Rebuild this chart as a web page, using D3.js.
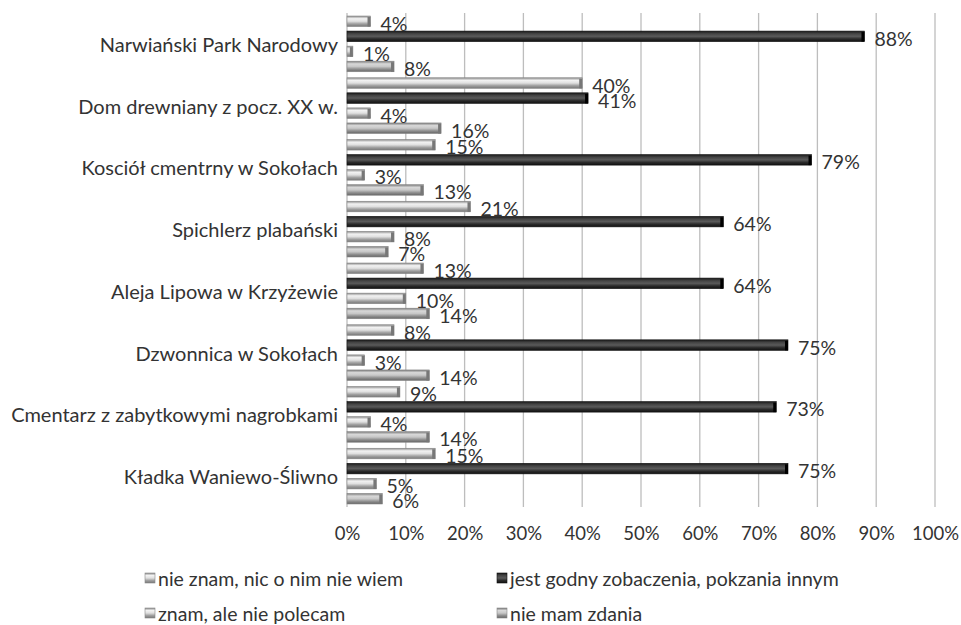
<!DOCTYPE html>
<html lang="pl">
<head>
<meta charset="UTF-8">
<title>Ocena obiektów</title>
<style>
  body { margin: 0; background: #fff; }
  text { font-family: Lato, "Open Sans", sans-serif; fill: #333; }
</style>
</head>
<body>
<div id="chart"></div>
<script src="https://cdn.jsdelivr.net/npm/d3@7"></script>
<script>
// data
const categories = [
  "Narwiański Park Narodowy",
  "Dom drewniany z pocz. XX w.",
  "Kosciół cmentrny w Sokołach",
  "Spichlerz plabański",
  "Aleja Lipowa w Krzyżewie",
  "Dzwonnica w Sokołach",
  "Cmentarz z zabytkowymi nagrobkami",
  "Kładka Waniewo-Śliwno"
];
const seriesNames = [
  "nie znam, nic o nim nie wiem",
  "jest godny zobaczenia, pokzania innym",
  "znam, ale nie polecam",
  "nie mam zdania"
];
const nieZnam    = [4, 40, 15, 21, 13, 8, 9, 15];
const jestGodny  = [88, 41, 79, 64, 64, 75, 73, 75];
const nieZnamPol = [1, 4, 3, 8, 10, 3, 4, 5];
const nieMam     = [8, 16, 13, 7, 14, 14, 14, 6];
const ticks = [0, 10, 20, 30, 40, 50, 60, 70, 80, 90, 100];

const values = [nieZnam, jestGodny, nieZnamPol, nieMam];

const W = 961, H = 625;
const margin = {top: 13, left: 347, right: 26, bottom: 118};

const svg = d3.select("#chart").append("svg")
  .attr("width", W).attr("height", H);

// gradients for the bevelled bar look
const defs = svg.append("defs");
const grads = [
  {id: "g0", stops: ["#8a8a8a", "#f2f2f2", "#e0e0e0", "#a0a0a0", "#777"]},
  {id: "g1", stops: ["#1a1a1a", "#444", "#5a5a5a", "#2a2a2a", "#111"]},
  {id: "g2", stops: ["#8a8a8a", "#f2f2f2", "#e0e0e0", "#a0a0a0", "#777"]},
  {id: "g3", stops: ["#7a7a7a", "#d8d8d8", "#c8c8c8", "#909090", "#666"]}
];
grads.forEach(g => {
  const lg = defs.append("linearGradient").attr("id", g.id)
    .attr("x1", 0).attr("y1", 0).attr("x2", 0).attr("y2", 1);
  g.stops.forEach((c, i) => lg.append("stop")
    .attr("offset", [0, 0.25, 0.5, 0.75, 1][i]).attr("stop-color", c));
});

const x = d3.scaleLinear().domain([0, 100]).range([margin.left, W - margin.right]);
const y0 = d3.scaleBand().domain(categories).range([margin.top, H - margin.bottom]);
const y1 = d3.scaleBand().domain(d3.range(4)).range([0, y0.bandwidth()]).paddingInner(0.3).paddingOuter(0.2);

// gridlines
svg.append("g")
  .selectAll("line")
  .data(ticks)
  .join("line")
    .attr("x1", d => x(d)).attr("x2", d => x(d))
    .attr("y1", margin.top).attr("y2", H - margin.bottom)
    .attr("stroke", "#bdbdbd").attr("stroke-width", 1.3);

// x axis labels
svg.append("g")
  .attr("transform", `translate(0, ${H - margin.bottom})`)
  .call(d3.axisBottom(x).tickValues(ticks).tickFormat(d => d + "%").tickSize(0).tickPadding(20))
  .call(g => g.select(".domain").remove())
  .selectAll("text")
    .style("font-size", "18.5px").style("font-family", "Lato, sans-serif").attr("fill", "#333");

// category labels
svg.append("g")
  .selectAll("text")
  .data(categories)
  .join("text")
    .attr("x", margin.left - 9)
    .attr("y", d => y0(d) + y0.bandwidth() / 2)
    .attr("text-anchor", "end")
    .attr("dominant-baseline", "central")
    .style("font-size", "20px")
    .text(d => d);

// bars
const groups = svg.append("g")
  .selectAll("g")
  .data(categories)
  .join("g")
    .attr("transform", d => `translate(0, ${y0(d)})`);

groups.selectAll("rect.bar")
  .data((d, ci) => values.map((v, si) => ({si, v: v[ci]})))
  .join("rect")
    .attr("class", "bar")
    .attr("x", x(0))
    .attr("y", d => y1(d.si))
    .attr("width", d => x(d.v) - x(0))
    .attr("height", y1.bandwidth())
    .attr("fill", d => `url(#g${d.si})`)
    .attr("stroke", d => d.si === 1 ? "#111" : "#888")
    .attr("stroke-width", 0.6);

// dark end caps
groups.selectAll("rect.cap")
  .data((d, ci) => values.map((v, si) => ({si, v: v[ci]})))
  .join("rect")
    .attr("class", "cap")
    .attr("x", d => x(d.v) - 3)
    .attr("y", d => y1(d.si) + 1)
    .attr("width", 3)
    .attr("height", y1.bandwidth() - 1)
    .attr("fill", d => d.si === 1 ? "#000" : "#777");

// value labels
groups.selectAll("text")
  .data((d, ci) => values.map((v, si) => ({si, v: v[ci]})))
  .join("text")
    .attr("x", d => x(d.v) + 10)
    .attr("y", d => y1(d.si) + y1.bandwidth() / 2 + 2)
    .attr("dominant-baseline", "central")
    .style("font-size", "19.5px")
    .text(d => d.v + "%");

// legend
const legendPos = [[145, 578], [497, 578], [145, 613], [497, 613]];
const legend = svg.append("g")
  .selectAll("g")
  .data(seriesNames)
  .join("g")
    .attr("transform", (d, i) => `translate(${legendPos[i][0]}, ${legendPos[i][1]})`);
legend.append("rect")
  .attr("x", 0).attr("y", -5).attr("width", 10).attr("height", 10)
  .attr("fill", (d, i) => `url(#g${i})`)
  .attr("stroke", (d, i) => i === 1 ? "#111" : "#888").attr("stroke-width", 0.6);
legend.append("text")
  .attr("x", 13).attr("y", 0)
  .attr("dominant-baseline", "central")
  .style("font-size", "19.5px")
  .text(d => d);
</script>
</body>
</html>
